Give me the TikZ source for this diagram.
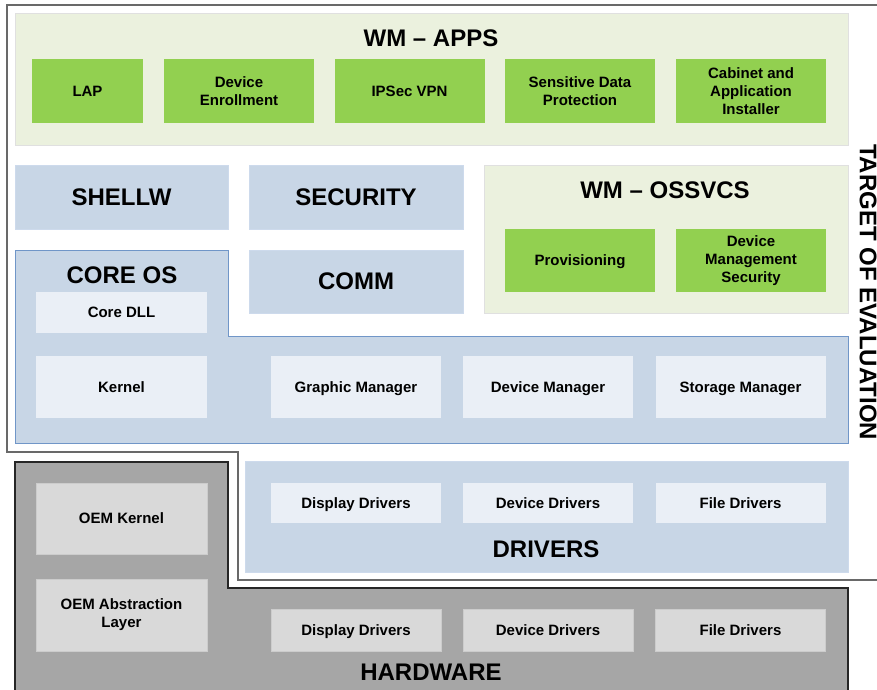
\documentclass[tikz,border=0pt]{standalone}
\usepackage{fontspec}
\setmainfont{Liberation Sans}
\definecolor{appbg}{RGB}{235,241,222}
\definecolor{appgreen}{RGB}{146,208,80}
\definecolor{osblue}{RGB}{200,214,230}
\definecolor{osline}{RGB}{112,150,200}
\definecolor{boxlight}{RGB}{234,239,246}
\definecolor{hwgray}{RGB}{166,166,166}
\definecolor{hwbox}{RGB}{217,217,217}
\definecolor{toeline}{RGB}{105,105,105}

\begin{document}
\begin{tikzpicture}[x=1pt, y=-1pt,
    app area/.style={fill=appbg, draw=black!12},
    os area/.style={fill=osblue, draw=osline!35},
    one line/.style={text height=10.7pt, text depth=0pt},
    app box/.style={fill=appgreen, minimum width=150pt, minimum height=64pt, inner sep=0pt, align=center},
    os box/.style={fill=boxlight, minimum width=170pt, minimum height=62pt, inner sep=0pt, one line},
    drv box/.style={fill=boxlight, minimum width=170pt, minimum height=40pt, inner sep=0pt, one line},
    hw box/.style={fill=hwbox, draw=black!20, minimum width=170pt, minimum height=42pt, inner sep=0pt, align=center},
    title/.style={font=\bfseries\fontsize{24}{28}\selectfont}]
    \tikzstyle{every node}=[font=\bfseries\fontsize{15}{18}\selectfont]
    \useasboundingbox (0,0) rectangle (877,689);

    % target of evaluation outline
    \draw[toeline, line width=1.5pt] (878,5) -- (7,5) -- (7,452) -- (238,452) -- (238,580) -- (878,580);
    \node[title, rotate=-90] (toe) at (868,292) {TARGET OF EVALUATION};

    % hardware
    \draw[fill=hwgray, draw=black!85, line width=1.2pt] (848,690) -- (848,588) -- (228,588) -- (228,462) -- (15,462) -- (15,690);

    % WM apps
    \draw[app area] (15,13) rectangle (848,145);
    \node[title] (apps) at (431,38) {WM -- APPS};
    \node[app box, minimum width=111pt, one line] (lap) at (87.5,91) {LAP};
    \node[app box] (enroll) at (239,91) {Device\\Enrollment};
    \node[app box, one line] (vpn) at (409.5,91) {IPSec VPN};
    \node[app box] (sdp) at (580,91) {Sensitive Data\\Protection};
    \node[app box] (cab) at (751,91) {Cabinet and\\Application\\Installer};

    % middle layer
    \node[os area, title, minimum width=213pt, minimum height=64pt, inner sep=0pt] (shellw) at (121.5,197) {SHELLW};
    \node[os area, title, minimum width=214pt, minimum height=64pt, inner sep=0pt] (sec) at (356,197) {SECURITY};
    \node[os area, title, minimum width=214pt, minimum height=63pt, inner sep=0pt] (comm) at (356,281.5) {COMM};

    \draw[app area] (484,165) rectangle (848,313);
    \node[title] (ossvcs) at (665,190) {WM -- OSSVCS};
    \node[app box, minimum height=63pt, one line] (prov) at (580,260.5) {Provisioning};
    \node[app box, minimum height=63pt] (dms) at (751,260.5) {Device\\Management\\Security};

    % core os
    \draw[fill=osblue, draw=osline] (15,250) -- (228,250) -- (228,336) -- (848,336) -- (848,443) -- (15,443) -- cycle;
    \node[title] (core) at (122,275) {CORE OS};
    \node[os box, minimum width=171pt, minimum height=41pt] (dll) at (121.5,312.5) {Core DLL};
    \node[os box, minimum width=171pt] (kernel) at (121.5,387) {Kernel};
    \node[os box] (gfx) at (356,387) {Graphic Manager};
    \node[os box] (devmgr) at (548,387) {Device Manager};
    \node[os box] (stor) at (740.5,387) {Storage Manager};

    % drivers
    \draw[os area] (245,461) rectangle (848,572);
    \node[drv box] (disp) at (356,503) {Display Drivers};
    \node[drv box] (dev) at (548,503) {Device Drivers};
    \node[drv box] (file) at (740.5,503) {File Drivers};
    \node[title] (drivers) at (546,549) {DRIVERS};

    % hardware boxes
    \node[hw box, minimum width=171pt, minimum height=71pt, one line] (oemk) at (121.5,518.5) {OEM Kernel};
    \node[hw box, minimum width=171pt, minimum height=72pt] (oema) at (121.5,615) {OEM Abstraction\\Layer};
    \node[hw box, one line] (hwdisp) at (356,630) {Display Drivers};
    \node[hw box, one line] (hwdev) at (548,630) {Device Drivers};
    \node[hw box, one line] (hwfile) at (740.5,630) {File Drivers};
    \node[title] (hw) at (431,672) {HARDWARE};
\end{tikzpicture}
\end{document}
